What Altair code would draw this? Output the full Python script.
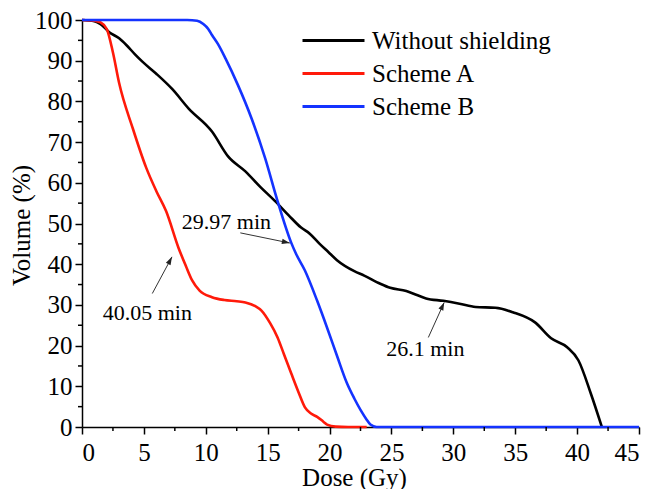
import math
import altair as alt
import pandas as pd

# ---------------- data ----------------
series_names = ["Without shielding", "Scheme A", "Scheme B"]
series_colors = ["#000000", "#ff1a0a", "#1433ff"]

black_dose = [0, 1, 1.5, 2.2, 3, 3.6, 4.3, 4.9, 6, 7.3, 8.6, 10.5, 11.8, 13.2, 14.4, 15.6,
              16.7, 17.7, 18.4, 19.2, 19.9, 20.6, 22, 22.8, 24.1, 24.9, 26.2, 27, 27.8, 29.2,
              30.5, 31.8, 33.4, 34.8, 36.6, 37.9, 39.2, 40.1, 41.1, 42]
black_vol = [100, 99.7, 99, 97, 95.5, 93.8, 91.5, 89.7, 86.8, 83, 78.3, 72.6, 66.5, 62.8, 59, 55.5,
             52, 49, 47.5, 45, 43, 41, 38.3, 37.2, 35.2, 34.2, 33.4, 32.5, 31.6, 31,
             30.3, 29.5, 29.3, 28.2, 25.7, 21.8, 19.6, 16.4, 8.3, 0]

red_dose = [0, 1, 1.5, 2, 2.5, 3, 4.1, 5.2, 6, 6.8, 7.8, 8.4, 8.9, 9.5, 10.5, 11.5, 12.5,
            13.2, 14, 14.5, 15.2, 15.8, 16.3, 16.9, 17.5, 18, 18.5, 19, 19.5, 19.8, 20.5, 21.5, 23]
red_vol = [100, 99.8, 99.4, 97.8, 92, 84.5, 73.4, 63.6, 58, 53, 44, 39.5, 36, 33.5, 31.9, 31.2, 30.9,
           30.6, 29.7, 28.6, 25.5, 22, 18, 13.2, 8.5, 4.9, 3.3, 2.5, 1.3, 0.6, 0.1, 0, 0]

blue_dose = [0, 8.5, 9.3, 9.8, 10.2, 10.5, 11, 11.6, 12.6, 13.7, 14.8, 15.8, 16.9, 17.3,
             18, 19, 19.8, 20.6, 21.4, 22, 22.5, 23, 23.3, 23.8, 45]
blue_vol = [100, 100, 99.8, 99, 97.8, 96.3, 94, 90.5, 84, 75.8, 66, 55.5, 45.3, 42.5,
            38.5, 31, 24.4, 17.5, 10.8, 7, 4.2, 1.8, 0.6, 0, 0]

x_major = [0, 5, 10, 15, 20, 25, 30, 35, 40, 45]
x_minor = [2.5, 7.5, 12.5, 17.5, 22.5, 27.5, 32.5, 37.5, 42.5]
y_major = [0, 10, 20, 30, 40, 50, 60, 70, 80, 90, 100]
y_minor = [5, 15, 25, 35, 45, 55, 65, 75, 85, 95]

# annotations: label, label position, arrow start, arrow tip
ann_text = ["29.97 min", "40.05 min", "26.1 min"]
ann_tx = [11.67, 5.28, 27.74]
ann_ty = [50.4, 28.1, 19.1]
ann_x1 = [12.79, 5.68, 27.98]
ann_y1 = [47.7, 32.8, 22.0]
ann_x2 = [16.79, 7.27, 29.26]
ann_y2 = [45.2, 41.8, 30.6]

# ---------------- layout ----------------
W, H = 557, 407
FONT = "Liberation Serif"

rows = []
for name, ds, vs in zip(series_names, [black_dose, red_dose, blue_dose],
                        [black_vol, red_vol, blue_vol]):
    rows += [{"series": name, "dose": d, "volume": v} for d, v in zip(ds, vs)]
df = pd.DataFrame(rows)

angles = []
for x1, y1, x2, y2 in zip(ann_x1, ann_y1, ann_x2, ann_y2):
    dx = (x2 - x1) * W / 45.0
    dy = -(y2 - y1) * H / 100.0
    angles.append(math.degrees(math.atan2(dx, -dy)) % 360)
ann = pd.DataFrame({"text": ann_text, "tx": ann_tx, "ty": ann_ty, "x1": ann_x1,
                    "y1": ann_y1, "x2": ann_x2, "y2": ann_y2, "angle": angles})

xs = alt.Scale(domain=[0, 45], nice=False, zero=False)
ys = alt.Scale(domain=[0, 100], nice=False, zero=False)

x_axis = alt.Axis(values=x_major, title="Dose (Gy)", tickSize=7, labelPadding=6,
                  titleX=272, titleY=50, titleBaseline="middle", orient="bottom")
y_axis = alt.Axis(values=y_major, title="Volume (%)", tickSize=7, labelPadding=3,
                  titleX=-61, titleY=205, titleBaseline="middle", orient="left")

color = alt.Color(
    "series:N",
    scale=alt.Scale(domain=series_names, range=series_colors),
    legend=alt.Legend(
        title=None, orient="none", legendX=239, legendY=8,
        symbolType="M-3,0H3", symbolSize=427, symbolStrokeWidth=3,
        labelFont=FONT, labelFontSize=25, labelColor="black", labelLimit=0,
        labelOffset=26, rowPadding=7, padding=0,
    ),
)

layers = []
for name in series_names:
    layers.append(
        alt.Chart(df).transform_filter(alt.datum.series == name)
        .mark_line(strokeWidth=2.6, interpolate="monotone")
        .encode(
            x=alt.X("dose:Q", scale=xs, axis=x_axis),
            y=alt.Y("volume:Q", scale=ys, axis=y_axis),
            color=color,
        )
    )

# minor ticks, placed through the shared scales
x_minor_ticks = alt.Chart(pd.DataFrame({"v": x_minor})).mark_rule(
    color="black", strokeWidth=1.5).encode(
    x=alt.X("v:Q", scale=xs, axis=x_axis), y=alt.value(H), y2=alt.value(H + 4))
y_minor_ticks = alt.Chart(pd.DataFrame({"v": y_minor})).mark_rule(
    color="black", strokeWidth=1.5).encode(
    y=alt.Y("v:Q", scale=ys, axis=y_axis), x=alt.value(0), x2=alt.value(-4))

arrows = alt.Chart(ann).mark_rule(color="#333333", strokeWidth=1).encode(
    x=alt.X("x1:Q", scale=xs, axis=x_axis), y=alt.Y("y1:Q", scale=ys, axis=y_axis),
    x2="x2:Q", y2="y2:Q",
)
heads = alt.Chart(ann).mark_point(
    shape="M0,0L-0.8,2.4L0.8,2.4Z", filled=True, color="#222222", size=44, opacity=1
).encode(
    x=alt.X("x2:Q", scale=xs, axis=x_axis), y=alt.Y("y2:Q", scale=ys, axis=y_axis),
    angle=alt.Angle("angle:Q", scale=None),
)
labels = alt.Chart(ann).mark_text(font=FONT, fontSize=22, color="black",
                                  align="center", baseline="middle").encode(
    x=alt.X("tx:Q", scale=xs, axis=x_axis), y=alt.Y("ty:Q", scale=ys, axis=y_axis),
    text="text:N",
)
layers += [x_minor_ticks, y_minor_ticks, arrows, heads, labels]

chart = (
    alt.layer(*layers)
    .properties(width=W, height=H, autosize=alt.AutoSizeParams(type="none"),
                padding={"left": 74, "top": 12, "right": 12, "bottom": 62})
    .configure_view(stroke=None)
    .configure_axis(grid=False, domainColor="black", domainWidth=1.5, tickColor="black",
                    tickWidth=1.5, labelFont=FONT, labelFontSize=25, labelColor="black",
                    titleFont=FONT, titleFontSize=25, titleColor="black",
                    titleFontWeight="normal")
)

chart.save("out.html", embed_options={"renderer": "svg", "actions": False})
